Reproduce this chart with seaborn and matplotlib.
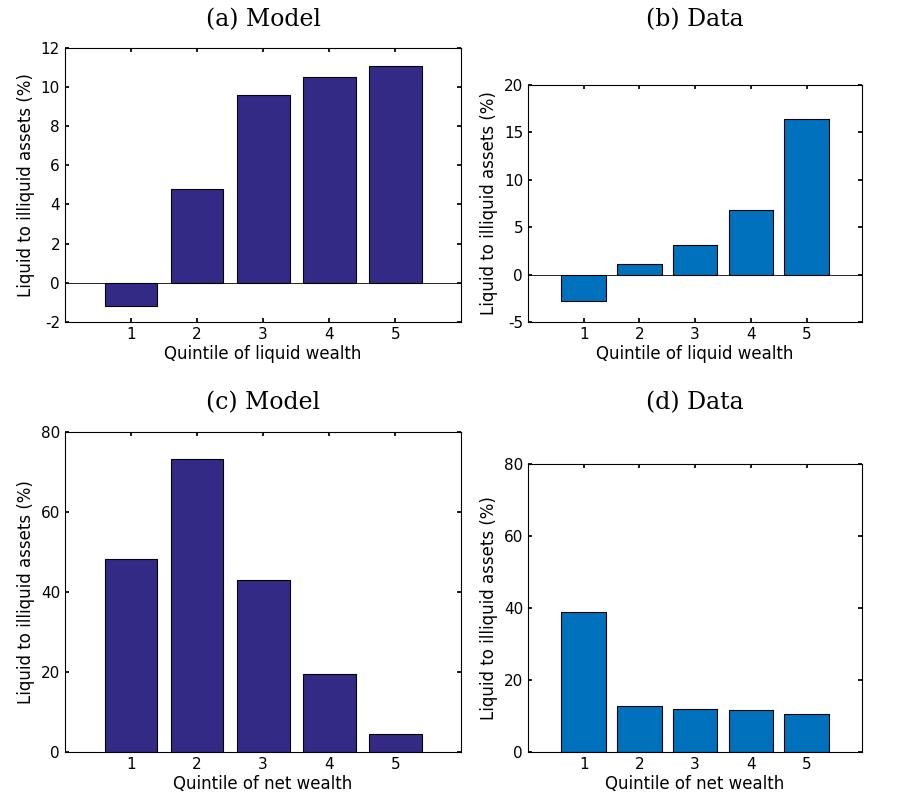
import numpy as np
import seaborn as sns
import pandas as pd
import matplotlib.pyplot as plt

sns.set_theme(style="white")
plt.rcParams.update({
    "font.family": ["DejaVu Sans"],
    "axes.unicode_minus": False,
    "xtick.direction": "in",
    "ytick.direction": "in",
    "xtick.major.size": 3,
    "ytick.major.size": 3,
    "axes.edgecolor": "black",
    "axes.linewidth": 0.8,
    "xtick.color": "black",
    "ytick.color": "black",
    "text.color": "black",
    "axes.labelcolor": "black",
    "xtick.bottom": True,
    "ytick.left": True,
    "xtick.top": True,
    "ytick.right": True,
    "xtick.labelsize": 11,
    "ytick.labelsize": 11,
})

quintiles = [1, 2, 3, 4, 5]
model_liquid = [-1.2, 4.8, 9.6, 10.5, 11.05]
data_liquid = [-2.8, 1.1, 3.1, 6.8, 16.4]
model_net = [48.3, 73.3, 42.9, 19.6, 4.6]
data_net = [39.0, 12.8, 12.0, 11.6, 10.7]

model_color = "#332a86"
data_color = "#0072bd"

fig = plt.figure(figsize=(9.01, 8.07), dpi=100)

panels = [
    ([0.072, 0.601, 0.44, 0.34], model_liquid, model_color, "(a) Model",
     "Quintile of liquid wealth", (-2, 12), np.arange(-2, 13, 2), 1 - 20 / 807),
    ([0.586, 0.601, 0.371, 0.294], data_liquid, data_color, "(b) Data",
     "Quintile of liquid wealth", (-5, 20), np.arange(-5, 21, 5), 1 - 20 / 807),
    ([0.072, 0.068, 0.44, 0.397], model_net, model_color, "(c) Model",
     "Quintile of net wealth", (0, 80), np.arange(0, 81, 20), 1 - 403 / 807),
    ([0.586, 0.068, 0.371, 0.357], data_net, data_color, "(d) Data",
     "Quintile of net wealth", (0, 80), np.arange(0, 81, 20), 1 - 403 / 807),
]

for rect, vals, color, title, xlabel, ylim, yticks, ty in panels:
    ax = fig.add_axes(rect)
    df = pd.DataFrame({"q": quintiles, "v": vals})
    sns.barplot(data=df, x="q", y="v", native_scale=True, width=0.8,
                color=color, saturation=1, edgecolor="black", linewidth=0.8, ax=ax)
    ax.set_xlim(0, 6)
    ax.set_ylim(*ylim)
    ax.set_xticks(quintiles)
    ax.set_yticks(yticks)
    if ylim[0] < 0:
        ax.axhline(0, color="black", linewidth=0.6)
    for s in ax.spines.values():
        s.set_visible(True)
    fig.text(rect[0] + rect[2] / 2, ty, title, fontsize=17,
             family="DejaVu Serif", ha="center", va="center")
    ax.set_xlabel(xlabel, fontsize=12, labelpad=2)
    ax.set_ylabel("Liquid to illiquid assets (%)", fontsize=12)

fig.savefig("out.png", dpi=100)
